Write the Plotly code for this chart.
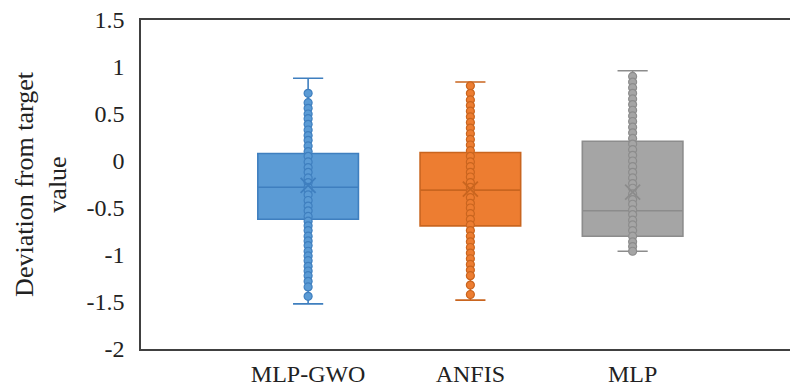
import plotly.graph_objects as go

categories = ["MLP-GWO", "ANFIS", "MLP"]

# box statistics
q1 = [-0.62, -0.69, -0.80]
median = [-0.28, -0.31, -0.53]
q3 = [0.08, 0.09, 0.21]
lower = [-1.52, -1.48, -0.96]
upper = [0.88, 0.84, 0.96]
mean = [-0.26, -0.30, -0.33]

# individual points (inner points)
pts_gwo = [0.72, 0.62, 0.56, 0.50, 0.45, 0.39, 0.33, 0.27, 0.22, 0.16, 0.10, 0.05,
           -0.01, -0.07, -0.12, -0.18, -0.23, -0.28, -0.31, -0.36, -0.42, -0.48,
           -0.53, -0.59, -0.64, -0.69, -0.74, -0.80, -0.85, -0.90, -0.96, -1.01,
           -1.06, -1.12, -1.17, -1.22, -1.28, -1.34, -1.44]
pts_anfis = [0.80, 0.72, 0.65, 0.59, 0.53, 0.47, 0.41, 0.35, 0.29, 0.23, 0.17, 0.11,
             0.05, -0.01, -0.06, -0.12, -0.17, -0.23, -0.28, -0.33, -0.39, -0.45,
             -0.50, -0.56, -0.62, -0.68, -0.74, -0.80, -0.86, -0.92, -0.98, -1.04,
             -1.10, -1.16, -1.22, -1.32, -1.42]
pts_mlp = [0.90, 0.84, 0.78, 0.72, 0.66, 0.60, 0.54, 0.48, 0.42, 0.36, 0.30, 0.24,
           0.18, 0.12, 0.06, 0.00, -0.06, -0.12, -0.18, -0.24, -0.29, -0.35, -0.41,
           -0.46, -0.52, -0.57, -0.63, -0.68, -0.74, -0.80, -0.86, -0.91, -0.96]
points = [pts_gwo, pts_anfis, pts_mlp]

y_ticks = [-2, -1.5, -1, -0.5, 0, 0.5, 1, 1.5]
y_ticktext = ["-2", "-1.5", "-1", "-0.5", "0", "0.5", "1", "1.5"]

fills = ["#5B9BD5", "#ED7D31", "#A5A5A5"]
edges = ["#3F7FBF", "#C9651F", "#8C8C8C"]

fig = go.Figure()
for i, cat in enumerate(categories):
    fig.add_trace(go.Box(
        x=[cat], q1=[q1[i]], median=[median[i]], q3=[q3[i]],
        lowerfence=[lower[i]], upperfence=[upper[i]],
        width=0.62, whiskerwidth=0.3,
        fillcolor=fills[i], line=dict(color=edges[i], width=1.6),
        boxpoints=False, showlegend=False, hoverinfo="skip",
    ))
    fig.add_trace(go.Scatter(
        x=[cat] * len(points[i]), y=points[i], mode="markers",
        marker=dict(size=8, color=fills[i], line=dict(color=edges[i], width=1.2)),
        showlegend=False,
    ))
    fig.add_trace(go.Scatter(
        x=[cat], y=[mean[i]], mode="markers",
        marker=dict(symbol="x-thin", size=15, line=dict(color=edges[i], width=1.8)),
        showlegend=False,
    ))

font_family = "Liberation Serif, Times New Roman, serif"
fig.update_layout(
    width=790, height=387,
    margin=dict(l=141, r=0, t=20, b=33),
    paper_bgcolor="white", plot_bgcolor="white",
    boxmode="overlay",
    font=dict(family=font_family, color="#222222", size=24),
)
fig.update_xaxes(
    type="category", range=[-1.03, 2.97],
    showline=True, mirror=True, linecolor="#404040", linewidth=1.5,
    showgrid=False, zeroline=False,
    ticks="outside", ticklen=2, tickcolor="rgba(0,0,0,0)",
    tickfont=dict(size=24, family=font_family, color="#222222"),
)
fig.update_yaxes(
    range=[-2, 1.5],
    tickvals=y_ticks, ticktext=y_ticktext,
    showline=True, mirror=False, linecolor="#404040", linewidth=1.5,
    showgrid=False, zeroline=False,
    ticks="outside", ticklen=10, tickcolor="rgba(0,0,0,0)",
    ticklabeloverflow="allow",
    tickfont=dict(size=24, family=font_family, color="#222222"),
    title=dict(text="Deviation from target<br>value", standoff=12,
               font=dict(size=26, family=font_family, color="#222222")),
)

fig.write_html(
    "out.html",
    config={"displayModeBar": False},
    post_script="document.body.style.margin='0';document.body.style.overflow='hidden';",
)
